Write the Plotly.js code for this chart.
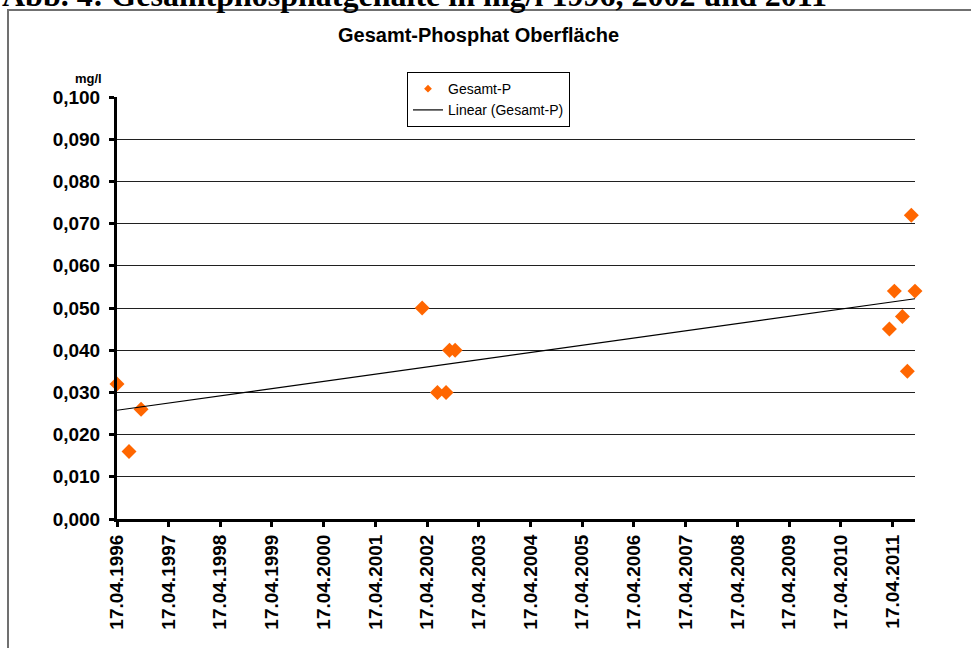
<!DOCTYPE html>
<html>
<head>
<meta charset="utf-8">
<script src="https://cdn.plot.ly/plotly-3.0.1.min.js"></script>
<style>
  html, body { margin: 0; padding: 0; background: #ffffff; overflow: hidden; }
  #frame { position: absolute; left: 7px; top: 9px; width: 1000px; height: 700px; border: 2px solid #707070; box-sizing: border-box; }
  #chart { position: absolute; left: 0; top: 0; width: 971px; height: 648px; }
</style>
</head>
<body>
<div id="frame"></div>
<div id="chart"></div>
<script>
// ---- data ----
const sampleDates = ['1996-04-17','1996-07-11','1996-10-04',
                     '2002-03-13','2002-06-29','2002-08-29','2002-09-22','2002-11-01',
                     '2011-03-27','2011-05-01','2011-06-27','2011-08-01','2011-08-29','2011-09-24'];
const phosphorValues = [0.032, 0.016, 0.026,
                        0.050, 0.030, 0.030, 0.040, 0.040,
                        0.045, 0.054, 0.048, 0.035, 0.072, 0.054];
const seriesName = 'Gesamt-P';
const trendName = 'Linear (Gesamt-P)';
const chartTitle = 'Gesamt-Phosphat Oberfläche';
const unitLabel = 'mg/l';
const headerText = 'Abb. 4: Gesamtphosphatgehalte in mg/l 1996, 2002 und 2011';

// ---- linear trend (least squares, like Excel's trendline) ----
const tx = sampleDates.map(d => new Date(d + 'T00:00:00Z').getTime());
const n = tx.length;
const mx = tx.reduce((a, b) => a + b, 0) / n;
const my = phosphorValues.reduce((a, b) => a + b, 0) / n;
let sxy = 0, sxx = 0;
for (let i = 0; i < n; i++) { sxy += (tx[i] - mx) * (phosphorValues[i] - my); sxx += (tx[i] - mx) ** 2; }
const slope = sxy / sxx;
const trendX = [sampleDates[0], sampleDates[n - 1]];
const trendY = [tx[0], tx[n - 1]].map(t => my + slope * (t - mx));

const orange = '#FF6600';
const sans = 'Liberation Sans, Arial, sans-serif';

const traces = [
  { // legend-only marker (small, like the reference legend)
    x: [null], y: [null], type: 'scatter', mode: 'markers', name: seriesName,
    marker: { symbol: 'diamond', size: 6, color: orange }, hoverinfo: 'skip'
  },
  {
    x: sampleDates, y: phosphorValues, type: 'scatter', mode: 'markers', name: seriesName,
    showlegend: false, cliponaxis: false,
    marker: { symbol: 'diamond', size: 11.5, color: orange, line: { width: 0 } }
  },
  {
    x: trendX, y: trendY, type: 'scatter', mode: 'lines', name: trendName,
    line: { color: '#000000', width: 1.2 }, hoverinfo: 'skip'
  }
];

const layout = {
  width: 971, height: 648,
  margin: { l: 117, r: 56, t: 97, b: 129, pad: 0 },
  paper_bgcolor: 'rgba(0,0,0,0)',
  plot_bgcolor: 'rgba(0,0,0,0)',
  separators: ',.',
  showlegend: true,
  font: { family: sans, color: '#000000' },
  xaxis: {
    type: 'date',
    range: [sampleDates[0], sampleDates[n - 1]],
    tick0: '1996-04-17', dtick: 'M12', tickformat: '%d.%m.%Y',
    tickangle: -90,
    tickfont: { family: sans, size: 19, weight: 'bold', color: '#000' },
    showgrid: false, zeroline: false,
    showline: true, linecolor: '#000', linewidth: 3,
    ticks: 'outside', ticklen: 5, tickwidth: 3, tickcolor: '#000',
    ticklabelstandoff: 0
  },
  yaxis: {
    range: [0, 0.1], dtick: 0.01, tick0: 0, tickformat: '.3f',
    tickfont: { family: sans, size: 19, weight: 'bold', color: '#000' },
    showgrid: true, gridcolor: '#202020', gridwidth: 1,
    zeroline: false,
    showline: true, linecolor: '#000', linewidth: 3,
    ticks: 'outside', ticklen: 5, tickwidth: 3, tickcolor: '#000',
    ticklabelstandoff: 5
  },
  legend: {
    x: 0.3634, y: 1.059, xanchor: 'left', yanchor: 'top',
    bgcolor: '#ffffff', bordercolor: '#000000', borderwidth: 1,
    font: { family: sans, size: 14, color: '#000' },
    tracegroupgap: 0
  },
  annotations: [
    { text: chartTitle, xref: 'paper', yref: 'paper', x: 0.4536, y: 1.147,
      xanchor: 'center', yanchor: 'middle', showarrow: false,
      font: { family: sans, size: 20, weight: 'bold', color: '#000' } },
    { text: unitLabel, xref: 'paper', yref: 'paper', x: -0.0351, y: 1.045,
      xanchor: 'center', yanchor: 'middle', showarrow: false,
      font: { family: sans, size: 13, weight: 'bold', color: '#000' } },
    { text: headerText, xref: 'paper', yref: 'paper', x: -0.1466, y: 1.2417,
      xanchor: 'left', yanchor: 'middle', showarrow: false,
      font: { family: 'Liberation Serif, Times New Roman, serif', size: 32, weight: 'bold', color: '#000' } }
  ]
};

Plotly.newPlot('chart', traces, layout, { displayModeBar: false, staticPlot: true });
</script>
</body>
</html>
